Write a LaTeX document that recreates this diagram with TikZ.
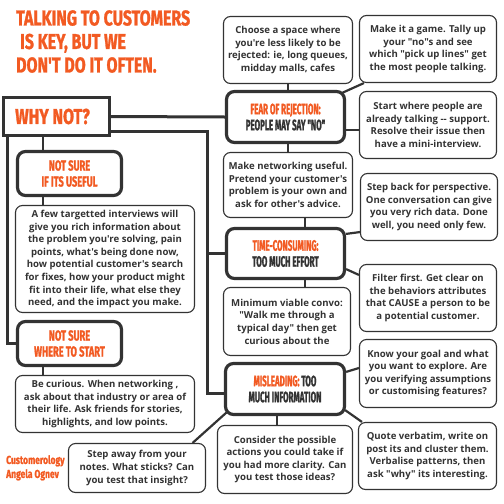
\documentclass[tikz,border=0pt]{standalone}
\usepackage{fontspec}
\usetikzlibrary{calc,backgrounds}
\newfontfamily\bodyfont{Open Sans}
\newfontfamily\headfont{Fira Sans}[FakeStretch=0.53,FakeBold=1.2]
\newfontfamily\headfontw{Fira Sans}[FakeStretch=0.64,FakeBold=1.2]
\newfontfamily\titlefont{Fira Sans}[FakeStretch=0.74,FakeBold=1.2]
\definecolor{org}{RGB}{242,90,34}
\definecolor{dk}{RGB}{51,51,51}
\tikzset{
  hdr/.style={draw=dk, line width=3.2pt, rounded corners=8pt, fill=white, align=center, inner sep=0pt,
    font=\headfont\bfseries\fontsize{15}{16}\selectfont, text=dk},
  hdrw/.style={hdr, font=\headfontw\bfseries\fontsize{14.5}{16}\selectfont, text=org},
  tip/.style={draw=dk, line width=1.1pt, rounded corners=7pt, fill=white, align=center, inner sep=0pt,
    font=\bodyfont\bfseries\fontsize{9.6}{12.6}\selectfont, text=dk},
  link/.style={draw=dk, line width=3pt},
  thin/.style={draw=dk, line width=2.2pt}
}
\begin{document}
\begin{tikzpicture}[x=1pt,y=-1pt]
\useasboundingbox (0,0) rectangle (504,504);
% title and credit
\node[anchor=north west, inner sep=0pt, align=left, text=org,
  font=\titlefont\bfseries\fontsize{21.5}{23.5}\selectfont] (title) at (16,10)
  {TALKING TO CUSTOMERS\\\hspace*{4pt}IS KEY, BUT WE\\DON'T DO IT OFTEN.};
\node[anchor=north west, inner sep=0pt, align=left, text=org,
  font=\titlefont\bfseries\fontsize{11.5}{14}\selectfont] (credit) at (6,455)
  {Customerology\\Angela Ognev};
% left column
\node[draw=dk, line width=3pt, fill=white, minimum width=106pt, minimum height=38pt, inner sep=0pt,
  font=\titlefont\bfseries\fontsize{21.5}{23.5}\selectfont, text=org] (why) at (56.5,116.5) {WHY NOT?\hspace*{8pt}};
\node[hdrw, minimum width=104pt, minimum height=44pt] (useful) at (69.5,173.5) {NOT SURE\\IF ITS USEFUL};
\node[tip, minimum width=179pt, minimum height=107pt] (t1) at (105,259)
  {A few targetted interviews will\\give you rich information about\\the problem you're solving, pain\\points, what's being done now,\\how potential customer's search\\for fixes, how your product might\\fit into their life, what else they\\need, and the impact you make.};
\node[hdrw, minimum width=104pt, minimum height=44pt] (start) at (69.5,343.5) {NOT SURE\\WHERE TO START};
\node[tip, minimum width=179pt, minimum height=57pt] (t2) at (105,404)
  {Be curious. When networking ,\\ask about that industry or area of\\their life. Ask friends for stories,\\highlights, and low points.};
\node[tip, minimum width=137pt, minimum height=49pt] (t3) at (137,468)
  {Step away from your\\notes. What sticks? Can\\you test that insight?};
% right column headers
\node[hdr, minimum width=118pt, minimum height=51pt] (fear) at (285.5,117) {{\color{org}FEAR OF REJECTION:}\\PEOPLE MAY SAY "NO"};
\node[hdr, minimum width=118pt, minimum height=50pt] (time) at (285.5,253.5) {{\color{org}TIME-CONSUMING:}\\TOO MUCH EFFORT};
\node[hdr, minimum width=119pt, minimum height=51pt] (mis) at (285,389) {{\color{org}MISLEADING:} TOO\\MUCH INFORMATION};
% tips
\node[tip, minimum width=129pt, minimum height=67pt] (c1) at (288,50)
  {Choose a space where\\you're less likely to be\\rejected: ie, long queues,\\midday malls, cafes};
\node[tip, minimum width=137pt, minimum height=67pt] (c2) at (428,49)
  {Make it a game. Tally up\\your "no"s and see\\which "pick up lines" get\\the most people talking.};
\node[tip, minimum width=137pt, minimum height=67pt] (c3) at (428,125)
  {Start where people are\\already talking -{}- support.\\Resolve their issue then\\have a mini-interview.};
\node[tip, minimum width=129pt, minimum height=65pt] (c4) at (288,185)
  {Make networking useful.\\Pretend your customer's\\problem is your own and\\ask for other's advice.};
\node[tip, minimum width=137pt, minimum height=67pt] (c5) at (429,207)
  {Step back for perspective.\\One conversation can give\\you very rich data. Done\\well, you need only few.};
\node[tip, minimum width=137pt, minimum height=67pt] (c6) at (428,298)
  {Filter first. Get clear on\\the behaviors attributes\\that CAUSE a person to be\\a potential customer.};
\node[tip, minimum width=127pt, minimum height=68pt] (c7) at (287,321.5)
  {Minimum viable convo:\\"Walk me through a\\typical day" then get\\curious about the};
\node[tip, minimum width=137pt, minimum height=68pt] (c8) at (428,373.5)
  {Know your goal and what\\you want to explore. Are\\you verifying assumptions\\or customising features?};
\node[tip, minimum width=138pt, minimum height=67pt] (c9) at (427.5,456)
  {Quote verbatim, write on\\post its and cluster them.\\Verbalise patterns, then\\ask "why" its interesting.};
\node[tip, minimum width=135pt, minimum height=68pt] (c10) at (285,459.5)
  {Consider the possible\\actions you could take if\\you had more clarity. Can\\you test those ideas?};
% connectors
\coordinate (j) at (207,131);
\coordinate (lx) at (7,0);
\coordinate (mx) at (43,0);
\coordinate (tx) at (305,0);
\coordinate (bx) at (277,0);
\begin{pgfonlayer}{background}
\draw[link] (why.east) -- (fear.west);
\draw[link] (j -| why.east) -- (j) |- ([yshift=-4pt]mis.west);
\draw[link] (j |- time.west) -- (time.west);
\draw[link] (why.south -| lx) |- (start.west);
\draw[thin] (why.south -| mx) -- (useful.north -| mx);
\draw[thin] (useful.south -| mx) -- (t1.north -| mx);
\draw[thin] (start.south -| mx) -- (t2.north -| mx);
\draw[thin] ($(mis.south west)+(2.5,-3.5)$) -- ($(t3.north east)+(-13.5,0)$);
\draw[thin] (c1.south) -- (c1.south |- fear.north);
\draw[thin] ($(fear.north east)+(-4,3)$) -- ($(c2.south west)+(5,0)$);
\draw[thin] ([yshift=-13pt]fear.east) -- ([yshift=-13pt]fear.east -| c3.west);
\draw[thin] (c4.north) -- (c4.north |- fear.south);
\draw[thin] (c4.south -| tx) -- (time.north -| tx);
\draw[thin] ([yshift=-7pt]time.north east) -- ([yshift=9pt]c5.south west);
\draw[thin] ([yshift=11pt]time.south east) -- ([yshift=-11pt]c6.north west);
\draw[thin] (time.south -| tx) -- (c7.north -| tx);
\draw[thin] ([yshift=-10pt]mis.north east) -- ([yshift=5.5pt]c8.west);
\draw[thin] ($(mis.south east)+(-1,-6)$) -- ($(c9.north west)+(4,0)$);
\draw[thin] (mis.south -| bx) -- (c10.north -| bx);
\end{pgfonlayer}
\end{tikzpicture}
\end{document}
